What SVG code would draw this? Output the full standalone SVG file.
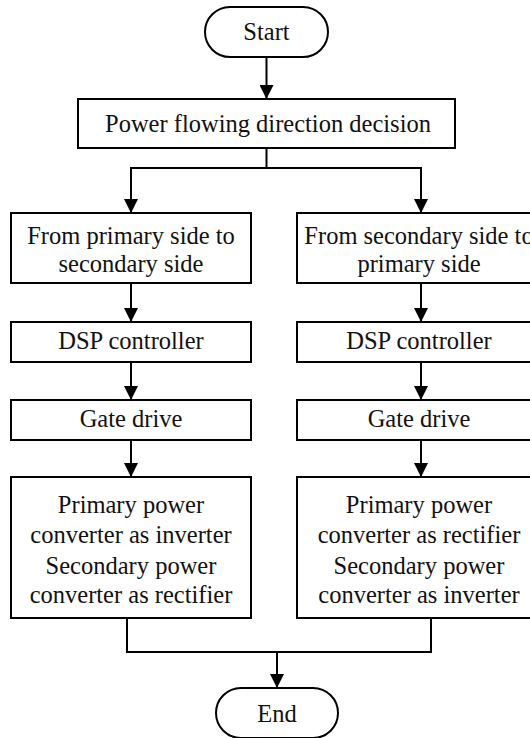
<svg xmlns="http://www.w3.org/2000/svg" width="530" height="738" viewBox="0 0 530 738">
<style>
.n{fill:#fff;stroke:#000;stroke-width:2}
.t{font-size:24.5px;fill:#111;text-anchor:middle}
.c{fill:none;stroke:#000;stroke-width:2}
</style>
<defs>
<marker id="ah" markerWidth="14" markerHeight="14" viewBox="0 0 14 14" refX="14" refY="7" orient="auto" markerUnits="userSpaceOnUse">
<path d="M0,0 L14,7 L0,14 Z" fill="#000"/>
</marker>
</defs>
<rect width="530" height="738" fill="#fff"/>
<g id="connectors">
<line class="c" x1="266.5" y1="57" x2="266.5" y2="99" marker-end="url(#ah)"/>
<polyline class="c" points="266.5,148 266.5,168 131,168 131,213" marker-end="url(#ah)"/>
<polyline class="c" points="266.5,168 421,168 421,213" marker-end="url(#ah)"/>
<line class="c" x1="131" y1="283" x2="131" y2="322" marker-end="url(#ah)"/>
<line class="c" x1="421" y1="283" x2="421" y2="322" marker-end="url(#ah)"/>
<line class="c" x1="131" y1="362" x2="131" y2="400" marker-end="url(#ah)"/>
<line class="c" x1="421" y1="362" x2="421" y2="400" marker-end="url(#ah)"/>
<line class="c" x1="131" y1="440" x2="131" y2="477" marker-end="url(#ah)"/>
<line class="c" x1="421" y1="440" x2="421" y2="477" marker-end="url(#ah)"/>
<polyline class="c" points="127,618 127,652 431,652 431,618"/>
<line class="c" x1="277" y1="652" x2="277" y2="688" marker-end="url(#ah)"/>
</g>
<g font-family="'Liberation Serif', 'Times New Roman', 'DejaVu Serif', serif">
<g id="start">
<rect class="n" x="205" y="7" width="123" height="50" rx="25"/>
<text class="t" x="266.5" y="40">Start</text>
</g>
<g id="decision">
<rect class="n" x="78" y="99" width="377" height="49"/>
<text class="t" x="268" y="132">Power flowing direction decision</text>
</g>
<g id="left1">
<rect class="n" x="11" y="213" width="240" height="70"/>
<text class="t" x="131" y="244">From primary side to</text>
<text class="t" x="131" y="272">secondary side</text>
</g>
<g id="right1">
<rect class="n" x="297" y="213" width="248" height="70"/>
<text class="t" x="419" y="244">From secondary side to</text>
<text class="t" x="419" y="272">primary side</text>
</g>
<g id="left2">
<rect class="n" x="11" y="322" width="240" height="40"/>
<text class="t" x="131" y="349">DSP controller</text>
</g>
<g id="right2">
<rect class="n" x="297" y="322" width="248" height="40"/>
<text class="t" x="419" y="349">DSP controller</text>
</g>
<g id="left3">
<rect class="n" x="11" y="400" width="240" height="40"/>
<text class="t" x="131" y="427">Gate drive</text>
</g>
<g id="right3">
<rect class="n" x="297" y="400" width="248" height="40"/>
<text class="t" x="419" y="427">Gate drive</text>
</g>
<g id="left4">
<rect class="n" x="11" y="477" width="240" height="141"/>
<text class="t" x="131" y="513">Primary power</text>
<text class="t" x="131" y="543">converter as inverter</text>
<text class="t" x="131" y="574">Secondary power</text>
<text class="t" x="131" y="603">converter as rectifier</text>
</g>
<g id="right4">
<rect class="n" x="297" y="477" width="248" height="141"/>
<text class="t" x="419" y="513">Primary power</text>
<text class="t" x="419" y="543">converter as rectifier</text>
<text class="t" x="419" y="574">Secondary power</text>
<text class="t" x="419" y="603">converter as inverter</text>
</g>
<g id="end">
<rect class="n" x="216" y="688" width="122" height="50" rx="25"/>
<text class="t" x="277" y="722">End</text>
</g>
</g>
</svg>
